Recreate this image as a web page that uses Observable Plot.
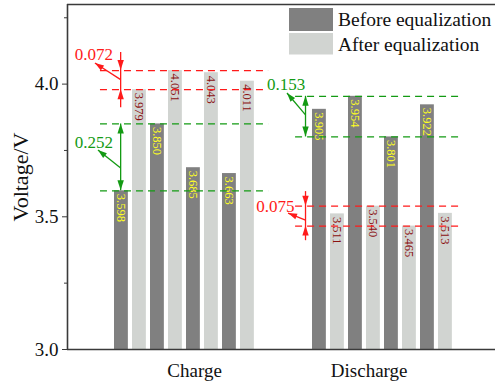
<!DOCTYPE html>
<html><head><meta charset="utf-8">
<script src="https://cdn.jsdelivr.net/npm/d3@7"></script>
<script src="https://cdn.jsdelivr.net/npm/@observablehq/plot@0.6"></script>
<style>body{margin:0;background:#fff}#chart{width:495px;height:390px}</style>
</head><body><div id="chart"></div>
<script>
// ---- data ----
const groups = ["Charge", "Discharge"];
const seriesNames = ["Before equalization", "After equalization"];
const chargeBefore = [3.598, 3.850, 3.685, 3.663];
const chargeAfter = [3.979, 4.051, 4.043, 4.011];
const dischargeBefore = [3.905, 3.954, 3.801, 3.922];
const dischargeAfter = [3.511, 3.540, 3.465, 3.513];
const yTicks = [3.0, 3.5, 4.0];
const yMinorTicks = [3.25, 3.75, 4.25];
const yLabel = "Voltage/V";

// ---- layout / style ----
const groupStart = [0, 11];       // bar slot where each group starts
const groupTick = [4.45, 14.15];  // category label positions (slot units)
const barWidth = 0.77;
const xDomain = [-2.611, 21.167];
const yDomain = [3.0, 4.3];
const barColors = ["#808080", "#d1d4d1"];
const labelColors = ["#ffff22", "#8b1010"];
const RED = "#ff1a1a", GREEN = "#139a13", AXIS = "#3a3a3a";
const FONT = "'Liberation Serif', 'Times New Roman', serif";

const seriesData = [[chargeBefore, chargeAfter], [dischargeBefore, dischargeAfter]];
const rows = [];
seriesData.forEach((pair, g) => pair.forEach((vals, s) => vals.forEach((v, i) =>
  rows.push({group: groups[g], series: seriesNames[s], s, value: v, slot: groupStart[g] + 2 * i + s}))));

// spread annotations (hi/lo from data)
const spreadDefs = [
  {g: 0, s: 1, color: RED, style: "outside", ext: 0.068, ax: 0.37, lx: [-0.78, 8.56], label: [-1.14, 4.1115], lead: [[0.37, 4.015], [-1.06, 4.0776]]},
  {g: 0, s: 0, color: GREEN, style: "inside", ax: 0.37, lx: [-0.78, 8.56], label: [-1.14, 3.778], lead: [[0.37, 3.682], [-0.89, 3.750]]},
  {g: 1, s: 0, color: GREEN, style: "inside", ax: 10.64, lx: [10.06, 19.33], label: [9.53, 3.998], lead: [[10.64, 3.882], [9.61, 3.9646]]},
  {g: 1, s: 1, color: RED, style: "outside", ext: 0.055, ax: 10.64, lx: [10.06, 19.33], label: [8.94, 3.539], lead: [[10.64, 3.486], [9.67, 3.512]]}
];
const spreads = spreadDefs.map(d => {
  const vals = seriesData[d.g][d.s];
  const hi = d3.max(vals), lo = d3.min(vals);
  return {...d, hi, lo, text: (hi - lo).toFixed(3)};
});
const dashLines = spreads.flatMap(d => [
  {y: d.hi, x1: d.lx[0], x2: d.lx[1], color: d.color},
  {y: d.lo, x1: d.lx[0], x2: d.lx[1], color: d.color}
]);

function arrowsMark(index, scales) {
  const {x, y} = scales;
  const g = d3.create("svg:g");
  const line = (x1, y1, x2, y2, c) => g.append("line").attr("x1", x1).attr("y1", y1).attr("x2", x2).attr("y2", y2)
    .attr("stroke", c).attr("stroke-width", 1.3);
  const head = (tx, ty, fx, fy, c, len = 10, hw = 3.2) => {
    const dx = tx - fx, dy = ty - fy, L = Math.hypot(dx, dy), ux = dx / L, uy = dy / L;
    const bx = tx - ux * len, by = ty - uy * len;
    g.append("path").attr("d", `M${tx},${ty}L${bx - uy * hw},${by + ux * hw}L${bx + uy * hw},${by - ux * hw}Z`).attr("fill", c);
  };
  for (const d of spreads) {
    const X = x(d.ax), yh = y(d.hi), yl = y(d.lo);
    if (d.style === "inside") {
      line(X, yh, X, yl, d.color);
      head(X, yh, X, yl, d.color);
      head(X, yl, X, yh, d.color);
    } else {
      const yt = y(d.hi + d.ext), yb = y(d.lo - d.ext);
      line(X, yt, X, yb, d.color);
      head(X, yh, X, yt, d.color);
      head(X, yl, X, yb, d.color);
    }
    const [[sx, sy], [tx, ty]] = d.lead;
    line(x(sx), y(sy), x(tx), y(ty), d.color);
    head(x(tx), y(ty), x(sx), y(sy), d.color, 9, 3);
  }
  return g.node();
}

function legendMark(index, scales, values, dims) {
  const g = d3.create("svg:g").attr("text-anchor", "start");
  const x0 = dims.width - 206;
  const boxes = [[8, 23], [33, 21.5]];
  seriesNames.forEach((name, i) => {
    g.append("rect").attr("x", x0).attr("y", boxes[i][0]).attr("width", 44).attr("height", boxes[i][1]).attr("fill", barColors[i]);
    g.append("text").attr("x", x0 + 49).attr("y", boxes[i][0] + 18).attr("font-size", 19.5)
      .attr("text-anchor", "start").attr("font-family", FONT).attr("fill", "#111").text(name);
  });
  return g.node();
}

const plot = Plot.plot({
  width: 495, height: 390,
  marginLeft: 67, marginRight: 0, marginTop: 4, marginBottom: 41,
  style: {fontFamily: FONT, background: "#fff", color: "#111"},
  x: {domain: xDomain, axis: null},
  y: {domain: yDomain, axis: null},
  marks: [
    Plot.rect(rows, {x1: "slot", x2: d => d.slot + barWidth, y1: () => yDomain[0], y2: "value", fill: d => barColors[d.s]}),
    Plot.text(rows, {x: d => d.slot + barWidth / 2, y: "value", text: d => d.value.toFixed(3), rotate: 90,
      textAnchor: "start", lineAnchor: "middle", dy: 3, fontSize: 12.5, fill: d => labelColors[d.s]}),
    Plot.ruleY(dashLines, {y: "y", x1: "x1", x2: "x2", stroke: "color", strokeWidth: 1.3, strokeDasharray: "7,5"}),
    arrowsMark,
    Plot.text(spreads, {x: d => d.label[0], y: d => d.label[1], text: "text", fill: "color", fontSize: 17}),
    Plot.ruleY([yDomain[1]], {stroke: AXIS, strokeWidth: 1.6}),
    Plot.ruleY([yDomain[0]], {stroke: AXIS, strokeWidth: 1.6}),
    Plot.ruleX([xDomain[0]], {stroke: AXIS, strokeWidth: 1.6}),
    Plot.axisY(yTicks, {tickSize: 5, tickPadding: 4, tickFormat: d => d.toFixed(1), fontSize: 19, label: null, stroke: AXIS, fill: "#111"}),
    Plot.axisY(yMinorTicks, {tickSize: 3, tickFormat: () => "", label: null, stroke: AXIS}),
    Plot.axisX(groupTick, {tickSize: 0, tickPadding: 14, tickFormat: d => groups[groupTick.indexOf(d)], fontSize: 19, label: null, fill: "#111"}),
    Plot.text([yLabel], {frameAnchor: "left", dx: -47, rotate: -90, text: d => d, fontSize: 22, textAnchor: "middle", lineAnchor: "middle", fill: "#111"}),
    legendMark
  ]
});
document.getElementById("chart").appendChild(plot);
</script>
</body></html>
